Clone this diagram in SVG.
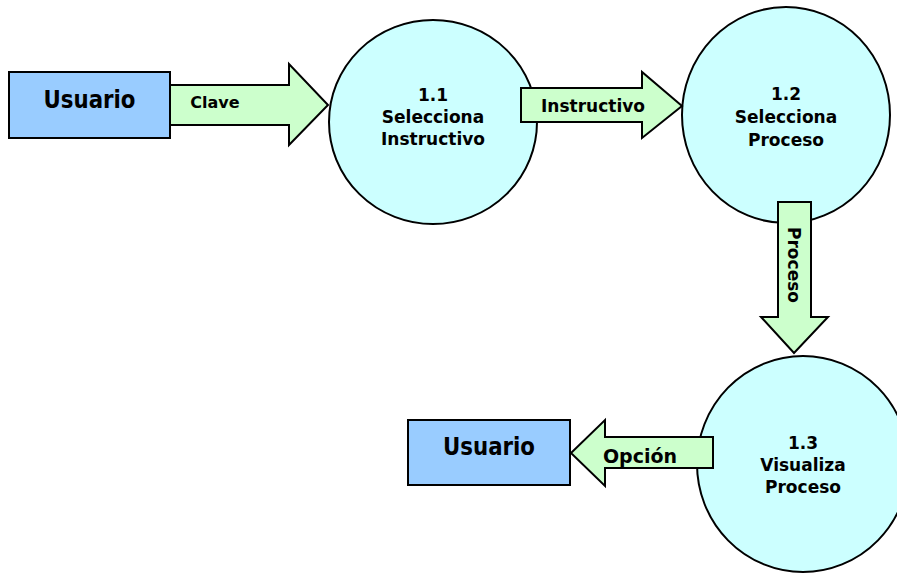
<svg xmlns="http://www.w3.org/2000/svg" width="897" height="573" viewBox="0 0 897 573">
<style>
.ent{fill:#99CCFF;stroke:#000;stroke-width:2}
.proc{fill:#CCFFFF;stroke:#000;stroke-width:2}
.flow{fill:#CCFFCC;stroke:#000;stroke-width:2;stroke-linejoin:miter}
text{font-family:"DejaVu Sans",Verdana,sans-serif;font-weight:bold;fill:#000;text-anchor:middle}
.big{font-size:24px}
.lbl{font-size:17px}
.cl{font-size:16px}
.op{font-size:19px}
</style>
<rect width="897" height="573" fill="#fff"/>
<g id="usuario1">
<rect class="ent" x="9" y="72" width="161" height="66"/>
<text class="big" x="89.5" y="108" textLength="92" lengthAdjust="spacingAndGlyphs">Usuario</text>
</g>
<g id="p11">
<ellipse class="proc" cx="433" cy="122" rx="104" ry="102"/>
<text class="lbl" x="433" y="101">1.1</text>
<text class="lbl" x="433" y="123">Selecciona</text>
<text class="lbl" x="433" y="145">Instructivo</text>
</g>
<g id="p12">
<ellipse class="proc" cx="786" cy="115" rx="104" ry="108"/>
<text class="lbl" x="786" y="100">1.2</text>
<text class="lbl" x="786" y="123">Selecciona</text>
<text class="lbl" x="786" y="146">Proceso</text>
</g>
<g id="p13">
<ellipse class="proc" cx="803" cy="464" rx="106" ry="108"/>
<text class="lbl" x="803" y="449">1.3</text>
<text class="lbl" x="803" y="471">Visualiza</text>
<text class="lbl" x="803" y="493">Proceso</text>
</g>
<g id="usuario2">
<rect class="ent" x="408" y="420" width="162" height="65"/>
<text class="big" x="489" y="455" textLength="92" lengthAdjust="spacingAndGlyphs">Usuario</text>
</g>
<g id="connectors">
<polygon class="flow" points="170,85 289,85 289,64 328,105 289,145 289,125 170,125"/>
<text class="cl" x="215" y="108">Clave</text>
<polygon class="flow" points="521,88 642,88 642,72 682,106 642,138 642,122 521,122"/>
<text class="lbl" x="593" y="112">Instructivo</text>
<polygon class="flow" points="778,202 811,202 811,317 828,317 794,353 761,317 778,317"/>
<text class="lbl" transform="translate(788,265) rotate(90)" x="0" y="0">Proceso</text>
<polygon class="flow" points="713,437 713,468 605,468 605,486 571,453 605,420 605,437"/>
<text class="op" x="640" y="463">Opción</text>
</g>
</svg>
